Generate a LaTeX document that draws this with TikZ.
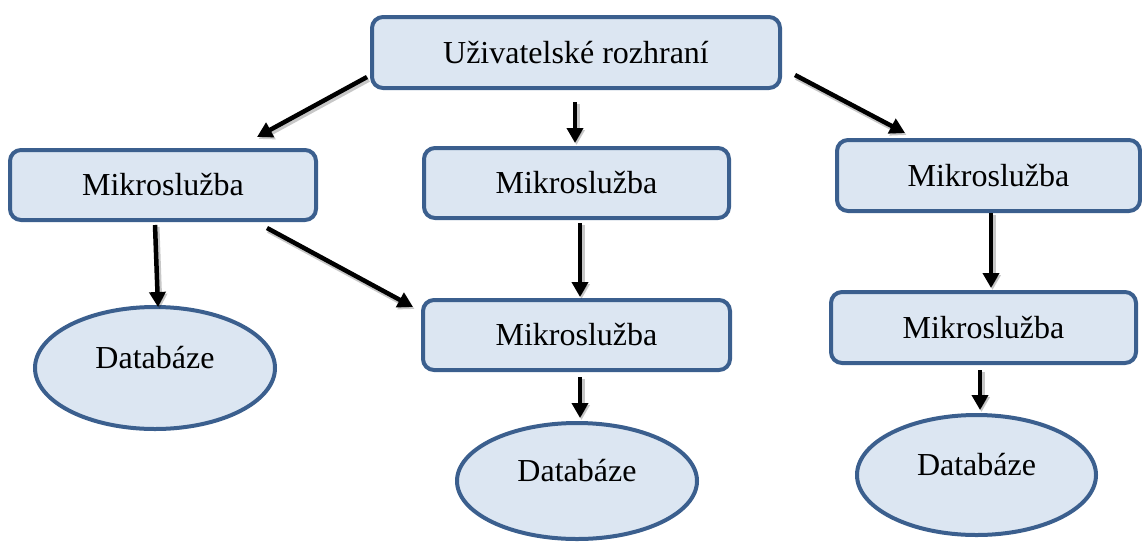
\documentclass[tikz,border=0pt]{standalone}
\usepackage{fontspec}
\setmainfont{Liberation Serif}
\usetikzlibrary{arrows.meta,shapes.geometric}
\definecolor{boxline}{HTML}{3B5F8E}
\definecolor{boxfill}{HTML}{DCE6F2}
\begin{document}
\begin{tikzpicture}[x=1pt,y=-1pt,
  every node/.style={font=\fontsize{32}{36}\selectfont, outer sep=0pt, inner sep=0pt},
  servicebox/.style={draw=boxline, fill=boxfill, line width=4pt, rounded corners=11pt,
    rectangle, minimum width=306pt, minimum height=70pt},
  dbnode/.style={draw=boxline, fill=boxfill, line width=4pt, ellipse,
    minimum width=240pt, minimum height=120pt, text height=0pt, text depth=0pt},
  arr/.style={line width=4.5pt, -{Triangle[length=15pt,width=16pt]},
    preaction={draw=black, opacity=0.22, line width=6pt,
      transform canvas={xshift=1.5pt,yshift=-2pt}}},
]
\useasboundingbox (0,0) rectangle (1142,541);

% boxes
\node[servicebox, minimum width=408pt, minimum height=71pt] (ui) at (576,52.5) {Uživatelské rozhraní};
\node[servicebox] (msL)  at (163,185)   {Mikroslužba};
\node[servicebox, minimum width=305pt] (msC1) at (576.5,183) {Mikroslužba};
\node[servicebox, minimum width=307pt] (msC2) at (576.5,335) {Mikroslužba};
\node[servicebox, minimum width=303pt, minimum height=71pt] (msR1) at (988.5,175.5) {Mikroslužba};
\node[servicebox, minimum width=305pt, minimum height=71pt] (msR2) at (983.5,327.5) {Mikroslužba};

% databases
\node[dbnode, minimum height=122pt] (dbL) at (155,368) {Databáze};
\node[dbnode, minimum height=116pt] (dbC) at (577,481) {Databáze};
\node[dbnode, minimum width=239pt] (dbR) at (976.5,475) {Databáze};

% connectors
\draw[arr] ([shift={(-5,24.5)}]ui.west) -- ([shift={(94,-13)}]msL.north);
\draw[arr] ([shift={(-1,14)}]ui.south) -- ([shift={(-1.5,-5)}]msC1.north);
\draw[arr] ([shift={(15,22.5)}]ui.east) -- ([shift={(-83.5,-7)}]msR1.north);
\draw[arr] ([shift={(-8,5)}]msL.south) -- ([shift={(3,0)}]dbL.north);
\draw[arr] ([shift={(104,8)}]msL.south) -- ([shift={(-10,-28)}]msC2.west);
\draw[arr] ([shift={(3.5,5)}]msC1.south) -- ([shift={(3.5,-3)}]msC2.north);
\draw[arr] ([shift={(3.5,7)}]msC2.south) -- ([shift={(3,-5)}]dbC.north);
\draw[arr] ([shift={(2.5,2)}]msR1.south) -- ([shift={(7.5,-4)}]msR2.north);
\draw[arr] ([shift={(-3.5,7)}]msR2.south) -- ([shift={(3.5,-5)}]dbR.north);
\end{tikzpicture}
\end{document}
